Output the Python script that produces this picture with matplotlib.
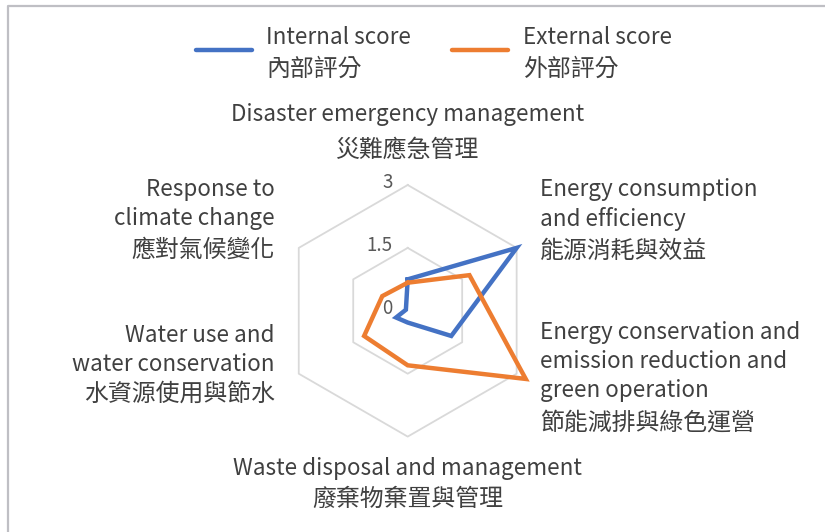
import matplotlib
matplotlib.use("Agg")
import matplotlib.pyplot as plt
import numpy as np
from matplotlib.lines import Line2D

plt.rcParams["font.family"] = ["Noto Sans CJK TC", "DejaVu Sans"]

# Dimensions (top, then clockwise)
categories_en = [
    ["Disaster emergency management"],
    ["Energy consumption", "and efficiency"],
    ["Energy conservation and", "emission reduction and", "green operation"],
    ["Waste disposal and management"],
    ["Water use and", "water conservation"],
    ["Response to", "climate change"],
]
categories_zh = [
    "災難應急管理",
    "能源消耗與效益",
    "節能減排與綠色運營",
    "廢棄物棄置與管理",
    "水資源使用與節水",
    "應對氣候變化",
]

internal_score = [0.75, 3.0, 1.2, 0.28, 0.32, 0.05]
external_score = [0.67, 1.7, 3.25, 1.3, 1.2, 0.7]

series_en = ["Internal score", "External score"]
series_zh = ["內部評分", "外部評分"]
series_colors = ["#4472C4", "#ED7D31"]

tick_values = [0, 1.5, 3]
tick_labels = ["0", "1.5", "3"]

W, H = 825, 532
TEXT = "#404040"
GRID = "#d9d9d9"
WEIGHT = "light"

fig = plt.figure(figsize=(W / 100, H / 100), dpi=100)

# polar axes centred on the radar, radius scaled so r=3 spans ~126 px
cx, cy, r3 = 407.7, 310.8, 125.8
rmax = 3.4
half = r3 * rmax / 3
ax = fig.add_axes([(cx - half) / W, (H - cy - half) / H, 2 * half / W, 2 * half / H],
                  projection="polar")
ax.set_theta_zero_location("N")
ax.set_theta_direction(-1)
ax.set_ylim(0, rmax)
ax.set_xticks([])
ax.set_yticks([])
ax.grid(False)
ax.spines["polar"].set_visible(False)
ax.patch.set_visible(False)

n = len(categories_zh)
angles = np.arange(n) * 2 * np.pi / n
closed = np.append(angles, angles[0])

# hexagonal gridlines
for t in tick_values[1:]:
    ax.plot(closed, [t] * (n + 1), color=GRID, lw=1.3, zorder=1, clip_on=False)

# radial tick labels along the vertical axis
for t, lab in zip(tick_values, tick_labels):
    ax.annotate(lab, xy=(0, t), xytext=(-15, 2.5), textcoords="offset pixels",
                ha="right", va="center", fontsize=13.5, color="#595959",
                fontweight=WEIGHT)

for vals, col in zip([internal_score, external_score], series_colors):
    v = np.append(vals, vals[0])
    ax.plot(closed, v, color=col, lw=3.2, solid_joinstyle="miter", zorder=3, clip_on=False)

# category labels: (dx, ha, English offsets, Chinese offset) in pixels
label_layout = [
    (0, "center", [70], 35),
    (23.5, "left", [58, 29], -3),
    (23.5, "left", [41, 12, -17], -49),
    (0, "center", [-32], -63),
    (-24, "right", [38, 9], -20),
    (-24, "right", [58, 29], -2),
]
FS_EN = 16.2
FS_ZH = 17.2
for i, (dx, ha, en_dy, zh_dy) in enumerate(label_layout):
    for line, dy in zip(categories_en[i], en_dy):
        ax.annotate(line, xy=(angles[i], 3), xytext=(dx, dy), textcoords="offset pixels",
                    ha=ha, va="center", fontsize=FS_EN, color=TEXT, fontweight=WEIGHT,
                    annotation_clip=False)
    ax.annotate(categories_zh[i], xy=(angles[i], 3), xytext=(dx, zh_dy),
                textcoords="offset pixels", ha=ha, va="center", fontsize=FS_ZH,
                color=TEXT, fontweight=WEIGHT, annotation_clip=False)

# legend
legend_x = [(196, 252, 266), (452, 508, 523)]
for (x0, x1, xt), col, en, zh in zip(legend_x, series_colors, series_en, series_zh):
    fig.add_artist(Line2D([x0 / W, x1 / W], [1 - 50 / H, 1 - 50 / H], color=col, lw=3.2,
                          solid_capstyle="round", transform=fig.transFigure))
    fig.text(xt / W, 1 - 38 / H, en, ha="left", va="center", fontsize=FS_EN, color=TEXT,
             fontweight=WEIGHT)
    fig.text(xt / W, 1 - 69 / H, zh, ha="left", va="center", fontsize=FS_ZH, color=TEXT,
             fontweight=WEIGHT)

# chart area border (top and left edges)
bx, by = 7.5 / W, 1 - 5.5 / H
fig.add_artist(Line2D([bx, bx, 1.0], [0.0, by, by], color="#bfbfc4", lw=1.6,
                      transform=fig.transFigure))

fig.savefig("out.png", dpi=100)
